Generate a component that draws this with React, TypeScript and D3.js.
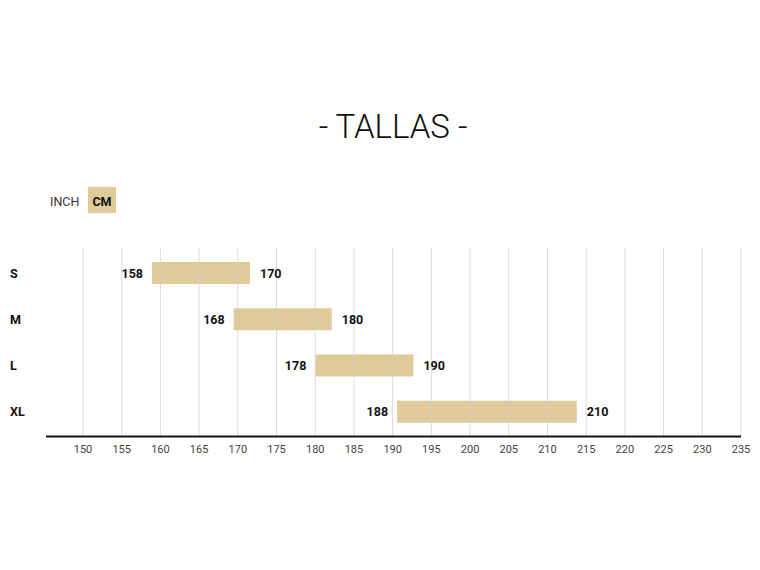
import React from "react";
import * as d3 from "d3";

const sizes = ["S", "M", "L", "XL"];
const minCm = [158, 168, 178, 188];
const maxCm = [170, 180, 190, 210];
const tickValues = [150, 155, 160, 165, 170, 175, 180, 185, 190, 195, 200, 205, 210, 215, 220, 225, 230, 235];
const unitOptions = ["INCH", "CM"];
const title = "- TALLAS -";

const W = 760;
const H = 570;
const TAN = "#dfcb9a";
const FONT = "Roboto, 'Noto Sans', sans-serif";

export default function App() {
  const axisX = d3.scaleLinear().domain([145, 235]).range([44.3, 741]);
  const barX = d3.scaleLinear().domain([158, 210]).range([152, 576.8]);
  const y = d3.scalePoint<string>().domain(sizes).range([273, 411.7]);
  const barH = 22;
  const axisY = 436.5;
  const gridTop = 248;

  return (
    <svg
      width={W}
      height={H}
      style={{ position: "absolute", left: 0, top: 0, background: "#fff" }}
      fontFamily={FONT}
    >
      <text x={393} y={138} textAnchor="middle" fontSize={33} fontWeight={300} fill="#111">
        {title}
      </text>

      {/* legend */}
      <text x={50} y={205.5} fontSize={12.5} fill="#333">{unitOptions[0]}</text>
      <rect x={88} y={187} width={28} height={26} fill={TAN} />
      <text x={102} y={205.5} textAnchor="middle" fontSize={12.5} fontWeight={700} fill="#111">
        {unitOptions[1]}
      </text>

      {/* bars */}
      {sizes.map((s, i) => (
        <rect
          key={s}
          x={barX(minCm[i])}
          y={(y(s) as number) - barH / 2}
          width={barX(maxCm[i]) - barX(minCm[i])}
          height={barH}
          fill={TAN}
        />
      ))}

      {/* grid */}
      {tickValues.map((t) => (
        <line
          key={t}
          x1={axisX(t)}
          x2={axisX(t)}
          y1={gridTop}
          y2={axisY}
          stroke="#cfcfcf"
          strokeOpacity={0.75}
          strokeWidth={1}
        />
      ))}

      {/* category labels */}
      {sizes.map((s) => (
        <text key={s} x={10} y={(y(s) as number) + 4.5} fontSize={12.5} fontWeight={700} fill="#111">
          {s}
        </text>
      ))}

      {/* value labels */}
      {sizes.map((s, i) => (
        <g key={s}>
          <text
            x={barX(minCm[i]) - 9}
            y={(y(s) as number) + 4.5}
            textAnchor="end"
            fontSize={12.5}
            fontWeight={700}
            fill="#111"
          >
            {minCm[i]}
          </text>
          <text
            x={barX(maxCm[i]) + 10}
            y={(y(s) as number) + 4.5}
            fontSize={12.5}
            fontWeight={700}
            fill="#111"
          >
            {maxCm[i]}
          </text>
        </g>
      ))}

      {/* axis */}
      <line x1={46} x2={741} y1={axisY} y2={axisY} stroke="#111" strokeWidth={2} />
      {tickValues.map((t) => (
        <text key={t} x={axisX(t)} y={453} textAnchor="middle" fontSize={11} fill="#444">
          {t}
        </text>
      ))}
    </svg>
  );
}
